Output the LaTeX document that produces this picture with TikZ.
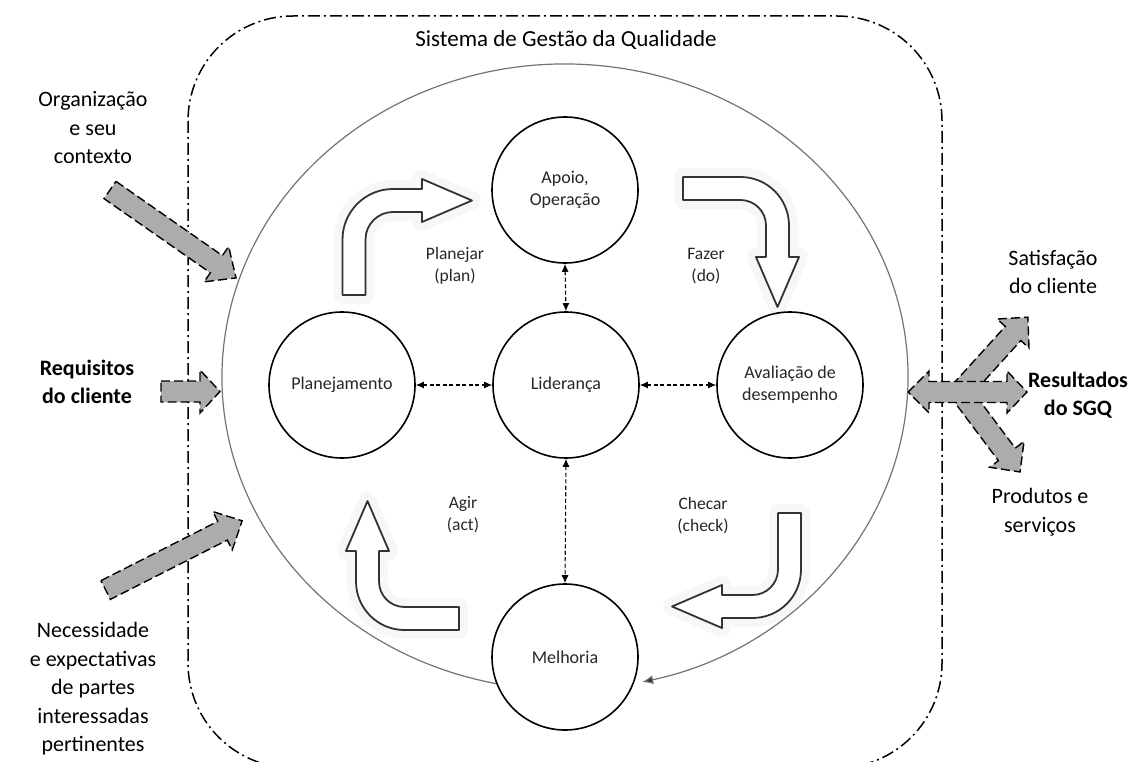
\documentclass[tikz,border=0pt]{standalone}
\usepackage{fontspec}
\setmainfont{Carlito}
\usetikzlibrary{arrows.meta,calc}
\definecolor{fatgray}{RGB}{174,171,171}
\tikzset{
 proc/.style={circle,draw=black,line width=1.6pt,minimum size=146pt,inner sep=0pt,align=center,font=\fontsize{18}{22}\selectfont,text=black!85},
 small/.style={align=center,font=\fontsize{17.5}{22}\selectfont,text=black!85},
 big/.style={align=center,font=\fontsize{22}{28.5}\selectfont},
 bigb/.style={align=center,font=\bfseries\fontsize{22}{28.5}\selectfont},
 link/.style={draw=black,line width=1.1pt,dash pattern=on 4pt off 2.5pt,{Latex[length=8pt,width=7pt]}-{Latex[length=8pt,width=7pt]}},
 fat/.style={fill=fatgray,draw=black,line width=1.4pt,dash pattern=on 9pt off 4pt,line join=miter},
 bendarrow/.style={fill=white,draw=black!80,line width=1.8pt,line join=round,preaction={draw=black!3,line width=18pt,line join=round}},
 frame/.style={draw=black,line width=1.5pt,dash pattern=on 12pt off 4pt on 2pt off 4pt},
}
\newcommand\fatarr[4]{\draw[fat,shift={(#1)},rotate=#2]
 (0pt,10.5pt) -- (#3pt-#4pt,10.5pt) -- (#3pt-#4pt,21.5pt) -- (#3pt,0pt) -- (#3pt-#4pt,-21.5pt) -- (#3pt-#4pt,-10.5pt) -- (0pt,-10.5pt) -- cycle;}
\begin{document}
\begin{tikzpicture}[x=1pt,y=-1pt]
\useasboundingbox (0,0) rectangle (1132,762);
\begin{scope}
\clip (0,0) rectangle (1132,762);
\draw[frame,rounded corners=105pt] (188,16) rectangle (942,768);
\end{scope}
\node[big,font=\fontsize{23}{28}\selectfont] (title) at (566,40) {Sistema de Gestão da Qualidade};

% curved block arrows
\draw[bendarrow] (342.5,295) -- (342.5,239.5) arc[start angle=180,end angle=90,radius=50.5pt] -- (422,189) -- (422,179) -- (472,200.5) -- (422,222) -- (422,212) -- (393,212) arc[start angle=90,end angle=180,radius=27.5pt] -- (365.5,295) -- cycle;
\draw[bendarrow] (683,177) -- (740.5,177) arc[start angle=90,end angle=0,radius=48.5pt] -- (789,257) -- (799,257) -- (777.5,307) -- (756,257) -- (766,257) -- (766,225.5) arc[start angle=0,end angle=90,radius=25.5pt] -- (683,200) -- cycle;
\draw[bendarrow] (778,513) -- (801,513) -- (801,569.5) arc[start angle=0,end angle=-90,radius=48.5pt] -- (722,618) -- (722,628) -- (672,606.5) -- (722,585) -- (722,595) -- (752.5,595) arc[start angle=-90,end angle=0,radius=25.5pt] -- cycle;
\draw[bendarrow] (459,630) -- (404.5,630) arc[start angle=-90,end angle=-180,radius=48.5pt] -- (356,551) -- (346,551) -- (367.5,501) -- (389,551) -- (379,551) -- (379,581.5) arc[start angle=180,end angle=270,radius=25.5pt] -- (459,607) -- cycle;

% big cycle
\coordinate (bc) at (565,377);
\draw[line width=1.2pt,draw=black!55,-{Latex[length=11pt,width=9pt,fill=black!80]}] ($(bc)+(258.6:343pt and 313pt)$) arc[start angle=258.6,end angle=-77,x radius=343pt,y radius=313pt];

% process nodes
\node[proc] (apoio) at (565,190) {Apoio,\\Operação};
\node[proc] (lid) at (566,385) {Liderança};
\node[proc] (plan) at (342,385) {Planejamento};
\node[proc] (aval) at (790,385) {Avaliação de\\desempenho};
\node[proc] (mel) at (565,657) {Melhoria};

\draw[link] (plan.east) -- (lid.west);
\draw[link] (lid.east) -- (aval.west);
\draw[link] (apoio.south) -- (lid.north);
\draw[link] (lid.south) -- (mel.north);

\node[small] (lplan) at (455,266) {Planejar\\(plan)};
\node[small] (lfaz) at (706,266) {Fazer\\(do)};
\node[small] (lagir) at (463,515) {Agir\\(act)};
\node[small] (lchk) at (703,516) {Checar\\(check)};

% input arrows
\fatarr{110,190}{-34.9}{153.7}{24}
\fatarr{161,391.5}{0}{59}{20}
\fatarr{105.7,590}{26.9}{153}{22}

% output arrows
\fatarr{960,392}{47.8}{101}{22}
\fatarr{960,392}{-53.1}{100}{22}
\draw[fat] (908,392) -- (929,371) -- (929,381.5) -- (1007,381.5) -- (1007,371) -- (1027,392) -- (1007,413) -- (1007,402.5) -- (929,402.5) -- (929,413) -- cycle;

\node[big] (org) at (93,128) {Organização\\e seu\\contexto};
\node[bigb] (req) at (87,382) {Requisitos\\do cliente};
\node[big] (nec) at (93,689) {Necessidade\\e expectativas\\de partes\\interessadas\\pertinentes};
\node[big] (sat) at (1053,272) {Satisfação\\do cliente};
\node[bigb] (res) at (1078,395) {Resultados\\do SGQ};
\node[big] (prod) at (1040,512) {Produtos e\\serviços};
\end{tikzpicture}
\end{document}
